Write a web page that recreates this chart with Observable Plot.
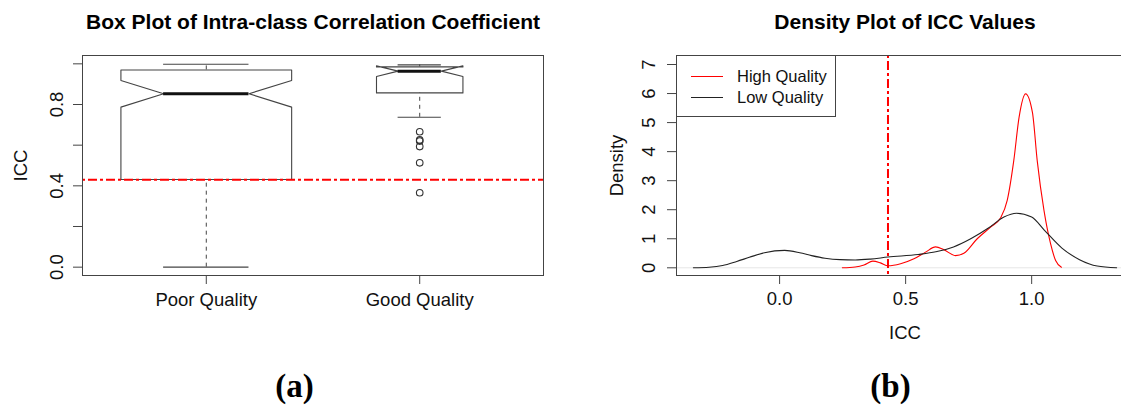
<!DOCTYPE html>
<html><head><meta charset="utf-8">
<script src="https://cdn.jsdelivr.net/npm/d3@7"></script>
<script src="https://cdn.jsdelivr.net/npm/@observablehq/plot@0.6"></script>
<style>
html,body{margin:0;padding:0;background:#fff;overflow:hidden;width:1121px;height:405px;}
#pa{position:absolute;left:0;top:0;width:560px;height:405px;}
#pb{position:absolute;left:560px;top:0;width:561px;height:405px;overflow:hidden;}
#pa svg,#pb svg{max-width:none !important;display:block;}
#legend{position:absolute;left:676px;top:55px;width:158px;height:60px;border:1px solid #444;background:#fff;
  font-family:"Liberation Sans",Arial,Helvetica,sans-serif;font-size:16.5px;color:#111;}
#legend .sw{position:absolute;left:14px;width:32px;height:0;border-top:1.6px solid;}
#legend .lb{position:absolute;left:60px;line-height:20px;height:20px;white-space:nowrap;}
</style></head><body>
<div id="pa"></div>
<div id="pb"></div>
<div id="legend"></div>
<script>
// ---------- Panel (a): notched box-plot summary statistics ----------
const groups      = ["Poor Quality", "Good Quality"];
const whiskerLow  = [0.000, 0.737];
const hingeLow    = [0.431, 0.857];
const notchLow    = [0.787, 0.938];
const medians     = [0.853, 0.964];
const notchHigh   = [0.918, 0.990];
const hingeHigh   = [0.970, 0.985];
const whiskerHigh = [0.998, 0.995];
const outlierGroup = ["Good Quality", "Good Quality", "Good Quality", "Good Quality", "Good Quality", "Good Quality"];
const outlierValue = [0.666, 0.626, 0.620, 0.593, 0.513, 0.366];
const iccThreshold = 0.43;
const boxTicks      = [0, 0.2, 0.4, 0.6, 0.8, 1.0];
const boxTickLabels = ["0.0", "", "0.4", "", "0.8", ""];

// ---------- Panel (b): kernel density curves ----------
const lowX = [-0.342, -0.28, -0.226, -0.17, -0.12, -0.06, 0.02, 0.08, 0.127, 0.18, 0.24, 0.30, 0.36, 0.43, 0.55, 0.62, 0.69, 0.76, 0.83, 0.89, 0.94, 1.0, 1.05, 1.12, 1.19, 1.26, 1.337];
const lowD = [0.0, 0.02, 0.08, 0.22, 0.36, 0.52, 0.60, 0.52, 0.42, 0.33, 0.28, 0.27, 0.30, 0.37, 0.46, 0.55, 0.72, 1.01, 1.38, 1.75, 1.88, 1.75, 1.30, 0.68, 0.28, 0.06, 0.0];
const highX = [0.249, 0.30, 0.335, 0.37, 0.40, 0.43, 0.48, 0.533, 0.579, 0.619, 0.652, 0.698, 0.731, 0.784, 0.837, 0.877, 0.903, 0.929, 0.95, 0.976, 1.003, 1.022, 1.049, 1.075, 1.095, 1.118];
const highD = [0.0, 0.03, 0.10, 0.23, 0.17, 0.07, 0.14, 0.31, 0.54, 0.72, 0.62, 0.42, 0.50, 1.0, 1.40, 1.72, 2.32, 3.69, 5.18, 5.99, 5.35, 3.69, 1.97, 0.83, 0.25, 0.02];
const densityXTicks = [0, 0.5, 1.0];
const densityXTickLabels = ["0.0", "0.5", "1.0"];
const densityYTicks = [0, 1, 2, 3, 4, 5, 6, 7];
const seriesNames = ["High Quality", "Low Quality"];
const seriesColors = ["#ff0000", "#222222"];

// ---------- styling ----------
const FONT = '"Liberation Sans", Arial, Helvetica, sans-serif';
const SERIF = '"Liberation Serif", "Times New Roman", serif';
const INK = "#444";
const boxHalfWidth = [0.4, 0.2025];   // varwidth boxes
const dotdash = "3,3,9,3";

const idx = d3.range(groups.length);
const pos = i => i + 1;

const outline = idx.flatMap(i => {
  const c = pos(i), w = boxHalfWidth[i];
  return [
    [c - w, hingeLow[i]], [c + w, hingeLow[i]], [c + w, notchLow[i]], [c + w / 2, medians[i]],
    [c + w, notchHigh[i]], [c + w, hingeHigh[i]], [c - w, hingeHigh[i]], [c - w, notchHigh[i]],
    [c - w / 2, medians[i]], [c - w, notchLow[i]], [c - w, hingeLow[i]]
  ].map(([x, y]) => ({g: groups[i], x, y}));
});

const left = Plot.plot({
  width: 560, height: 405,
  marginLeft: 82, marginRight: 17, marginTop: 55, marginBottom: 130,
  x: {domain: [0.42, 2.58]},
  y: {domain: [-0.041, 1.041]},
  style: {fontFamily: FONT, fontSize: "18.5px", color: "#111", background: "#fff"},
  marks: [
    Plot.axisY({ticks: boxTicks, tickSize: 9, tickFormat: () => "", label: null, stroke: INK}),
    Plot.axisX({ticks: [1, 2], tickSize: 9, tickFormat: () => "", label: null, stroke: INK}),
    Plot.line(outline, {x: "x", y: "y", z: "g", stroke: INK, strokeWidth: 1.1}),
    Plot.ruleX(idx, {x: pos, y1: i => hingeHigh[i], y2: i => whiskerHigh[i], stroke: INK, strokeDasharray: "4,4"}),
    Plot.ruleX(idx, {x: pos, y1: i => whiskerLow[i], y2: i => hingeLow[i], stroke: INK, strokeDasharray: "4,4"}),
    Plot.ruleY(idx, {y: i => whiskerHigh[i], x1: i => pos(i) - boxHalfWidth[i] / 2, x2: i => pos(i) + boxHalfWidth[i] / 2, stroke: INK, strokeWidth: 1.1}),
    Plot.ruleY(idx, {y: i => whiskerLow[i], x1: i => pos(i) - boxHalfWidth[i] / 2, x2: i => pos(i) + boxHalfWidth[i] / 2, stroke: INK, strokeWidth: 1.1}),
    Plot.ruleY(idx, {y: i => medians[i], x1: i => pos(i) - boxHalfWidth[i] / 2, x2: i => pos(i) + boxHalfWidth[i] / 2, stroke: "#111", strokeWidth: 3}),
    Plot.dot(outlierValue, {x: (d, i) => groups.indexOf(outlierGroup[i]) + 1, y: d => d, r: 3.3, stroke: "#333", fill: "none", strokeWidth: 1.1}),
    Plot.ruleY([iccThreshold], {stroke: "#ff0000", strokeWidth: 2, strokeDasharray: dotdash}),
    Plot.frame({stroke: INK}),
    Plot.text(boxTicks, {y: d => d, text: (d, i) => boxTickLabels[i], frameAnchor: "left", dx: -25, rotate: -90, textAnchor: "middle", lineAnchor: "middle"}),
    Plot.text(idx, {x: pos, text: i => groups[i], frameAnchor: "bottom", dy: 25, lineAnchor: "middle"}),
    Plot.text(["ICC"], {frameAnchor: "left", dx: -61, rotate: -90, textAnchor: "middle", lineAnchor: "middle"}),
    Plot.text(["Box Plot of Intra-class Correlation Coefficient"], {frameAnchor: "top", dy: -33, lineAnchor: "middle", fontWeight: "bold", fontSize: 21, fill: "#000"}),
    Plot.text(["(a)"], {frameAnchor: "bottom", dx: -18.5, dy: 111, lineAnchor: "middle", fontFamily: SERIF, fontWeight: "bold", fontSize: 33, fill: "#000"})
  ]
});
document.getElementById("pa").appendChild(left);

const densityRows = [
  ...highX.map((x, i) => ({s: seriesNames[0], x, d: highD[i]})),
  ...lowX.map((x, i) => ({s: seriesNames[1], x, d: lowD[i]}))
];

const right = Plot.plot({
  width: 575, height: 405,
  marginLeft: 116, marginRight: 2, marginTop: 55, marginBottom: 130,
  x: {domain: [-0.409, 1.404]},
  y: {domain: [-0.265, 7.31]},
  color: {domain: seriesNames, range: seriesColors},
  style: {fontFamily: FONT, fontSize: "18.5px", color: "#111", background: "#fff"},
  marks: [
    Plot.axisY({ticks: densityYTicks, tickSize: 9, tickFormat: () => "", label: null, stroke: INK}),
    Plot.axisX({ticks: densityXTicks, tickSize: 9, tickFormat: () => "", label: null, stroke: INK}),
    Plot.ruleY([0], {stroke: "#e6e6e6", strokeWidth: 1}),
    Plot.line(densityRows, {x: "x", y: "d", z: "s", stroke: "s", strokeWidth: 1.1, curve: "monotone-x"}),
    Plot.ruleX([iccThreshold], {stroke: "#ff0000", strokeWidth: 2, strokeDasharray: dotdash}),
    Plot.frame({stroke: INK}),
    Plot.text(densityYTicks, {y: d => d, text: d => String(d), frameAnchor: "left", dx: -27, rotate: -90, textAnchor: "middle", lineAnchor: "middle"}),
    Plot.text(densityXTicks, {x: d => d, text: (d, i) => densityXTickLabels[i], frameAnchor: "bottom", dy: 24, lineAnchor: "middle"}),
    Plot.text(["ICC"], {frameAnchor: "bottom", dy: 58, lineAnchor: "middle"}),
    Plot.text(["Density"], {frameAnchor: "left", dx: -59, rotate: -90, textAnchor: "middle", lineAnchor: "middle"}),
    Plot.text(["Density Plot of ICC Values"], {frameAnchor: "top", dy: -33, lineAnchor: "middle", fontWeight: "bold", fontSize: 21, fill: "#000"}),
    Plot.text(["(b)"], {frameAnchor: "bottom", dx: -14.5, dy: 111, lineAnchor: "middle", fontFamily: SERIF, fontWeight: "bold", fontSize: 33, fill: "#000"})
  ]
});
document.getElementById("pb").appendChild(right);

// legend (HTML, real text)
const legend = document.getElementById("legend");
seriesNames.forEach((name, i) => {
  const top = 20 + i * 21;
  const sw = document.createElement("div");
  sw.className = "sw"; sw.style.top = top + "px"; sw.style.borderTopColor = seriesColors[i];
  const lb = document.createElement("div");
  lb.className = "lb"; lb.style.top = (top - 10) + "px"; lb.textContent = name;
  legend.appendChild(sw); legend.appendChild(lb);
});
</script>
</body></html>
